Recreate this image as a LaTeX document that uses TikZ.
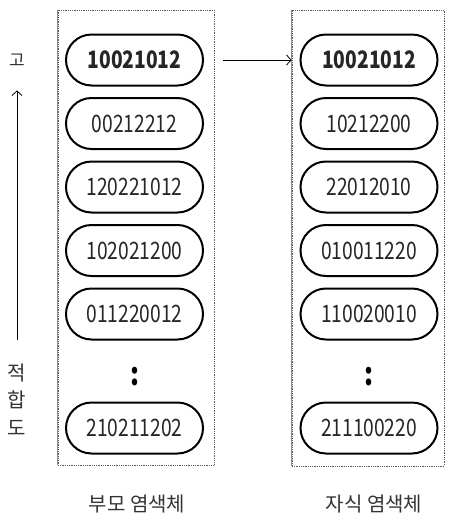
\documentclass[tikz,border=0pt]{standalone}
\usepackage{fontspec}
\usepackage{tikz}
\usetikzlibrary{shapes.misc,arrows.meta}
\newfontfamily\hanfont{Noto Sans CJK KR}
\newfontfamily\numfont[FakeStretch=0.8]{Noto Sans CJK KR}

\tikzset{
  chromo/.style={rounded rectangle, draw, line width=2pt, minimum width=137pt,
    minimum height=51pt, inner sep=0pt, text=black!85,
    font=\numfont\fontsize{24}{24}\selectfont},
  pool/.style={draw=black!65, densely dotted, line width=0.8pt, inner sep=0pt},
  vdots/.style={inner sep=0pt, font=\numfont\bfseries\fontsize{32}{32}\selectfont},
  lbl/.style={text=black!80, font=\hanfont\fontsize{20}{20}\selectfont},
  axis/.style={inner sep=0pt, text=black!80, font=\hanfont\fontsize{20}{20}\selectfont},
  arr/.style={-{Straight Barb[length=4.5pt,width=10pt]}, line width=0.8pt},
}

\begin{document}
\begin{tikzpicture}[x=1pt,y=-1pt]
            \useasboundingbox (0,0) rectangle (448,528);
            % two populations
            \node [pool, minimum width=156pt, minimum height=455pt] (parents) at (136,237.5) {};
            \node [pool, minimum width=152pt, minimum height=456pt] (children) at (368,238) {};
            \draw [black!45, line width=0.7pt] (parents.north west) -- (parents.south west);
            \draw [black!45, line width=0.7pt] (children.north west) -- (children.south west);

            \node [chromo] (pa1) at (134.5,60) {\bfseries 10021012};
            \node [chromo] (pa2) at (134.5,123.5) {00212212};
            \node [chromo] (pa3) at (134.5,187) {120221012};
            \node [chromo] (pa4) at (134.5,250.5) {102021200};
            \node [chromo] (pa5) at (134.5,314) {011220012};
            \node [vdots] (padots) at (134.5,377) {:};
            \node [chromo] (pa6) at (134.5,428) {210211202};

            \node [chromo] (ch1) at (369,60) {\bfseries 10021012};
            \node [chromo] (ch2) at (369,123.5) {10212200};
            \node [chromo] (ch3) at (369,187) {22012010};
            \node [chromo] (ch4) at (369,250.5) {010011220};
            \node [chromo] (ch5) at (369,314) {110020010};
            \node [vdots] (chdots) at (369,377) {:};
            \node [chromo] (ch6) at (369,428) {211100220};

            \coordinate (gap) at (223,60);
            \draw [arr] (gap) -- (children.west |- gap);

            % fitness axis
            \node [axis, font=\hanfont\fontsize{17}{17}\selectfont] (fitHi) at (17,60) {고};
            \node [axis] (fitA) at (17,373) {적};
            \node [axis] (fitB) at (17,400) {합};
            \node [axis] (fitC) at (17,428) {도};
            \draw [arr, shorten <=24pt, shorten >=24pt] (fitA.north) -- (fitHi.south);

            \node [lbl] (plabel) at (137,504) {부모 염색체};
            \node [lbl] (clabel) at (374,504) {자식 염색체};
        \end{tikzpicture}
\end{document}
